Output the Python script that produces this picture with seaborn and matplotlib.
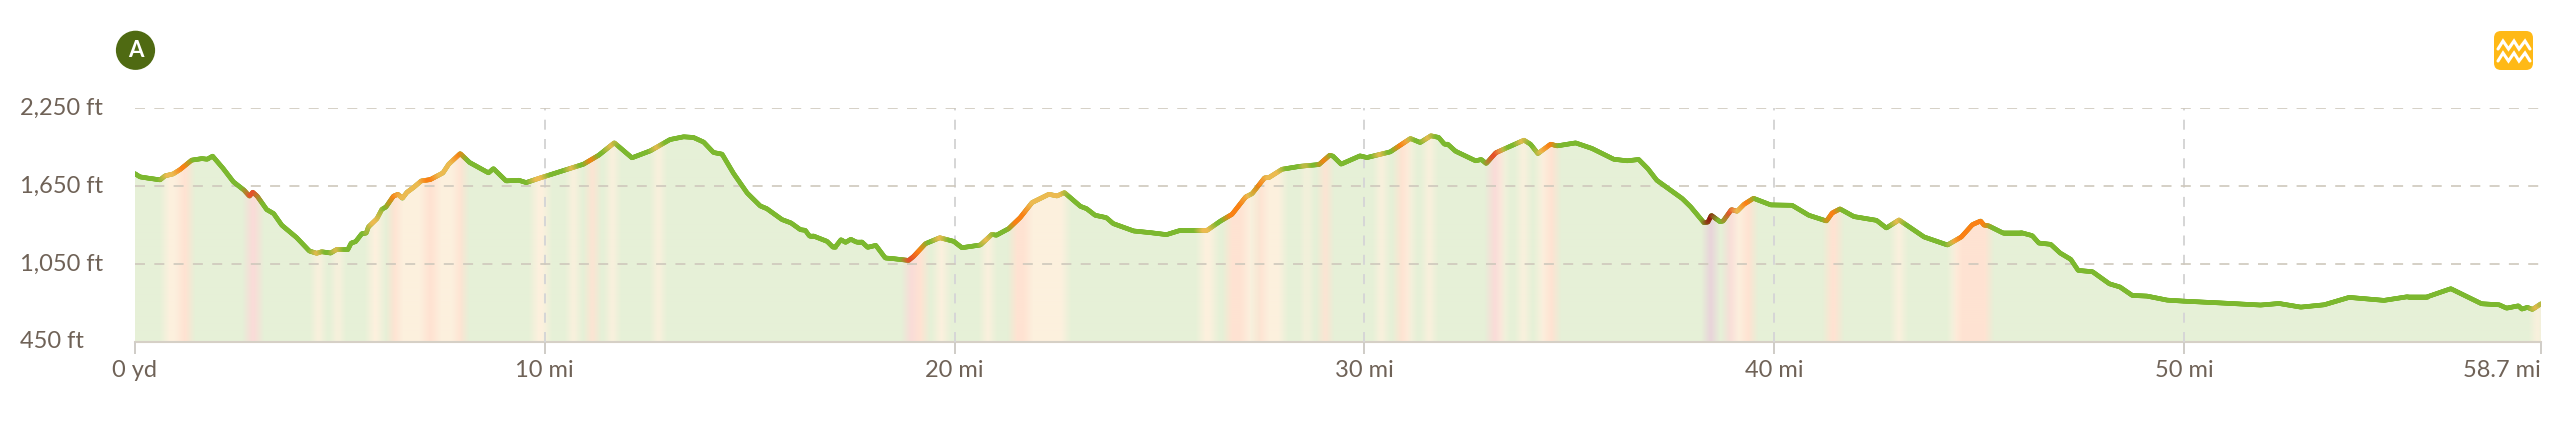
import numpy as np
import matplotlib
matplotlib.use('Agg')
import matplotlib.pyplot as plt
import seaborn as sns
from matplotlib.collections import LineCollection
from matplotlib.colors import to_rgb
from matplotlib.patches import Circle, FancyBboxPatch

# Distance along the route (miles)
miles = [0, .13, .29, .62, .74, .94, 1.11, 1.39, 1.64, 1.77, 1.90, 2.16, 2.41, 2.67, 2.80, 2.88, 2.99, 3.22, 3.39, 3.59,
         3.95, 4.26, 4.44, 4.56, 4.78, 4.93, 5.20, 5.28, 5.39, 5.54, 5.65, 5.70, 5.91, 6.03, 6.13, 6.31, 6.42, 6.53, 6.64, 6.80,
         6.99, 7.21, 7.52, 7.66, 7.94, 8.17, 8.63, 8.75, 9.06, 9.37, 9.55, 9.89, 10.54, 10.95, 11.32, 11.70, 12.13, 12.58, 13.06, 13.39,
         13.63, 13.88, 14.12, 14.33, 14.61, 14.94, 15.26, 15.42, 15.79, 16.01, 16.24, 16.36, 16.46, 16.56, 16.89, 17.03, 17.09, 17.23, 17.34, 17.47,
         17.60, 17.74, 17.88, 18.08, 18.31, 18.52, 18.88, 19.00, 19.29, 19.64, 19.98, 20.18, 20.63, 20.91, 21.02, 21.32, 21.60, 21.89, 22.30, 22.50,
         22.68, 23.07, 23.22, 23.43, 23.70, 23.87, 24.37, 24.78, 25.17, 25.49, 26.16, 26.49, 26.77, 27.10, 27.26, 27.56, 27.67, 27.99, 28.44, 28.89,
         29.15, 29.23, 29.43, 29.89, 30.06, 30.63, 31.12, 31.36, 31.62, 31.81, 31.95, 32.03, 32.22, 32.71, 32.85, 32.97, 33.20, 33.40, 33.89, 34.05,
         34.23, 34.54, 34.70, 35.15, 35.55, 36.08, 36.41, 36.69, 36.91, 37.13, 37.75, 37.96, 38.28, 38.38, 38.46, 38.67, 38.75, 38.95, 39.09, 39.26,
         39.49, 39.91, 40.43, 40.84, 41.27, 41.41, 41.60, 41.94, 42.49, 42.73, 43.04, 43.65, 44.22, 44.56, 44.83, 45.03, 45.11, 45.23, 45.56, 46.02,
         46.29, 46.45, 46.74, 46.97, 47.23, 47.41, 47.76, 48.17, 48.43, 48.73, 49.09, 49.58, 49.99, 50.96, 51.86, 52.31, 52.84, 53.41, 54.02, 54.87,
         55.44, 55.93, 56.50, 57.25, 57.68, 57.86, 58.15, 58.23, 58.37, 58.49, 58.70]

# Elevation (ft) at each of those distances
elevation = [1745, 1719, 1711, 1696, 1727, 1742, 1776, 1848, 1860, 1855, 1879, 1783, 1680, 1616, 1570, 1601, 1570, 1467, 1436, 1346,
             1251, 1148, 1130, 1142, 1132, 1160, 1158, 1209, 1220, 1281, 1286, 1333, 1397, 1469, 1487, 1570, 1585, 1554, 1600, 1637,
             1688, 1698, 1750, 1817, 1899, 1830, 1750, 1783, 1688, 1693, 1675, 1711, 1776, 1817, 1886, 1982, 1866, 1920, 2007, 2028,
             2023, 1987, 1907, 1894, 1745, 1595, 1495, 1474, 1390, 1364, 1312, 1307, 1263, 1263, 1222, 1178, 1178, 1235, 1214, 1238,
             1217, 1217, 1176, 1191, 1094, 1088, 1075, 1106, 1204, 1250, 1222, 1173, 1194, 1276, 1269, 1320, 1405, 1521, 1585, 1572,
             1598, 1492, 1474, 1423, 1405, 1359, 1302, 1289, 1274, 1305, 1307, 1379, 1431, 1564, 1590, 1711, 1714, 1778, 1801, 1814,
             1886, 1879, 1817, 1881, 1868, 1912, 2015, 1984, 2036, 2023, 1971, 1971, 1917, 1843, 1853, 1822, 1904, 1933, 2002, 1971,
             1899, 1971, 1958, 1981, 1938, 1855, 1843, 1853, 1783, 1693, 1552, 1487, 1366, 1371, 1423, 1374, 1379, 1467, 1454, 1508,
             1554, 1503, 1500, 1423, 1379, 1441, 1472, 1413, 1384, 1325, 1387, 1256, 1194, 1256, 1351, 1379, 1348, 1341, 1289, 1289,
             1266, 1209, 1199, 1132, 1083, 998, 988, 895, 870, 805, 800, 769, 761, 746, 731, 743, 715, 733, 790, 767,
             795, 795, 857, 741, 733, 707, 725, 700, 713, 697, 741]

# Stretches of steeper grade (start, end in miles)
yellow_bands = [(.70, 1.07), (4.36, 4.56), (4.85, 5.01), (5.70, 5.99), (6.40, 7.05), (7.33, 7.82), (9.69, 10.05),
                (10.58, 10.78), (11.52, 11.72), (12.66, 12.84), (19.53, 19.78), (20.68, 20.89), (21.78, 22.70),
                (25.96, 26.32), (27.06, 27.30), (27.54, 27.99), (28.52, 28.64), (30.29, 30.49), (31.0, 31.14),
                (31.45, 31.65), (33.28, 33.40), (33.76, 33.95), (34.21, 34.42), (39.01, 39.22), (42.90, 43.12),
                (44.30, 44.44), (58.49, 58.70)]
orange_bands = [(1.07, 1.33), (6.22, 6.40), (7.05, 7.33), (7.82, 8.02), (11.03, 11.23), (19.05, 19.25), (21.38, 21.78),
                (26.63, 27.06), (27.34, 27.54), (28.93, 29.13), (30.78, 31.0), (34.42, 34.66), (39.22, 39.46),
                (41.27, 41.57), (44.44, 45.23)]
red_bands = [(2.73, 3.02), (18.80, 19.05), (33.03, 33.28), (38.81, 39.01)]
dark_bands = [(38.32, 38.53)]

y_ticks = [450, 1050, 1650, 2250]
y_labels = ['450 ft', '1,050 ft', '1,650 ft', '2,250 ft']
x_ticks = [0, 10, 20, 30, 40, 50, 58.7]
x_labels = ['0 yd', '10 mi', '20 mi', '30 mi', '40 mi', '50 mi', '58.7 mi']

line_colors = ['#7cb82f', '#ecba50', '#fb8014', '#e5502a', '#94170f']
fill_colors = ['#e6f0d7', '#fcf0de', '#ffe3d2', '#f9dcd8', '#e9d2da']
text_color = '#6f6257'

sns.set_theme(style='white')
plt.rcParams['font.family'] = ['Lato', 'DejaVu Sans']

W, H = 2560, 429
fig = plt.figure(figsize=(W / 100, H / 100), dpi=100)
left, right, top, bottom = 134.7, 2541, 108, 341.5
ax = fig.add_axes([left / W, 1 - bottom / H, (right - left) / W, (bottom - top) / H])

# grade class along a fine grid, softened a little at the edges
grid = np.linspace(0, 58.7, 2407)
grade = np.zeros(len(grid), dtype=int)
for k, bands in enumerate([yellow_bands, orange_bands, red_bands, dark_bands], start=1):
    for a, b in bands:
        grade[(grid >= a) & (grid < b)] = k


def colour_ramp(colors, width):
    rgb = np.array([to_rgb(c) for c in colors])[grade]
    kernel = np.ones(width) / width
    padded = np.pad(rgb, ((width, width), (0, 0)), mode='edge')
    out = np.column_stack([np.convolve(padded[:, i], kernel, mode='same') for i in range(3)])
    return out[width:-width]


# area under the profile
poly = ax.fill_between(miles, 450, elevation, color='none', lw=0)
img = ax.imshow(colour_ramp(fill_colors, 10)[np.newaxis, :, :], aspect='auto', extent=(0, 58.7, 450, 2250),
                interpolation='bilinear', zorder=1)
img.set_clip_path(poly.get_paths()[0], transform=ax.transData)

# base line, then the coloured pieces on top
sns.lineplot(x=miles, y=elevation, ax=ax, color=line_colors[0], lw=3.3, zorder=4, legend=False)
line_y = np.interp(grid, miles, elevation)
pts = np.column_stack([grid, line_y]).reshape(-1, 1, 2)
segs = np.concatenate([pts[:-1], pts[1:]], axis=1)
lc = LineCollection(segs, colors=colour_ramp(line_colors, 9)[:-1], linewidths=3.3, capstyle='round', zorder=5)
ax.add_collection(lc)

ax.set_xlim(0, 58.7)
ax.set_ylim(450, 2250)
ax.set_xticks(x_ticks)
ax.set_xticklabels(x_labels)
ax.set_yticks(y_ticks)
ax.set_yticklabels([])
for s in ['top', 'left', 'right']:
    ax.spines[s].set_visible(False)
ax.spines['bottom'].set_color('#d6d0c6')
ax.spines['bottom'].set_linewidth(1.5)
ax.set_axisbelow(False)
ax.patch.set_alpha(0)

dash = (0, (5, 4.65))
ax.grid(axis='y', color='#cfc9bd', lw=1.44, linestyle=dash, alpha=.85, zorder=2)
ax.grid(axis='x', color='#d6d6d6', lw=1.44, linestyle=dash, zorder=2)
xgrid = ax.get_xgridlines()
xgrid[0].set_visible(False)
xgrid[-1].set_visible(False)
ygrid = ax.get_ygridlines()
ygrid[0].set_visible(False)

ax.tick_params(axis='x', length=8.5, width=1.44, color='#d0cdc8', pad=5, labelsize=17, labelcolor=text_color, bottom=True)
ax.tick_params(axis='y', length=0)
labels = ax.get_xticklabels()
labels[-1].set_ha('right')

# overlay in pixel coordinates for the labels and the two badges
over = fig.add_axes([0, 0, 1, 1], zorder=10)
over.set_xlim(0, W)
over.set_ylim(H, 0)
over.axis('off')
for v, lab in zip(y_ticks, y_labels):
    y_px = bottom - (v - 450) / 1800 * (bottom - top)
    over.text(20, y_px + 0.5, lab, ha='left', va='center', fontsize=17, color=text_color)

over.add_patch(Circle((135.5, 50.3), 19.6, color='#4f6a12', lw=0))
over.text(135.5, 50.8, 'A', ha='center', va='center', fontsize=16, weight='bold', color='white')
over.add_patch(FancyBboxPatch((2501, 38), 25, 25, boxstyle='round,pad=7,rounding_size=7', fc='#ffb916', ec='none'))
zig_x = [2498, 2503, 2508.5, 2514, 2519, 2525, 2530]
for low, high in [(49, 41), (61, 53)]:
    zig_y = [low, high, low, high, low, high, low]
    over.plot(zig_x, zig_y, color='white', lw=2.2, solid_joinstyle='miter')

fig.savefig('out.png', dpi=100)
